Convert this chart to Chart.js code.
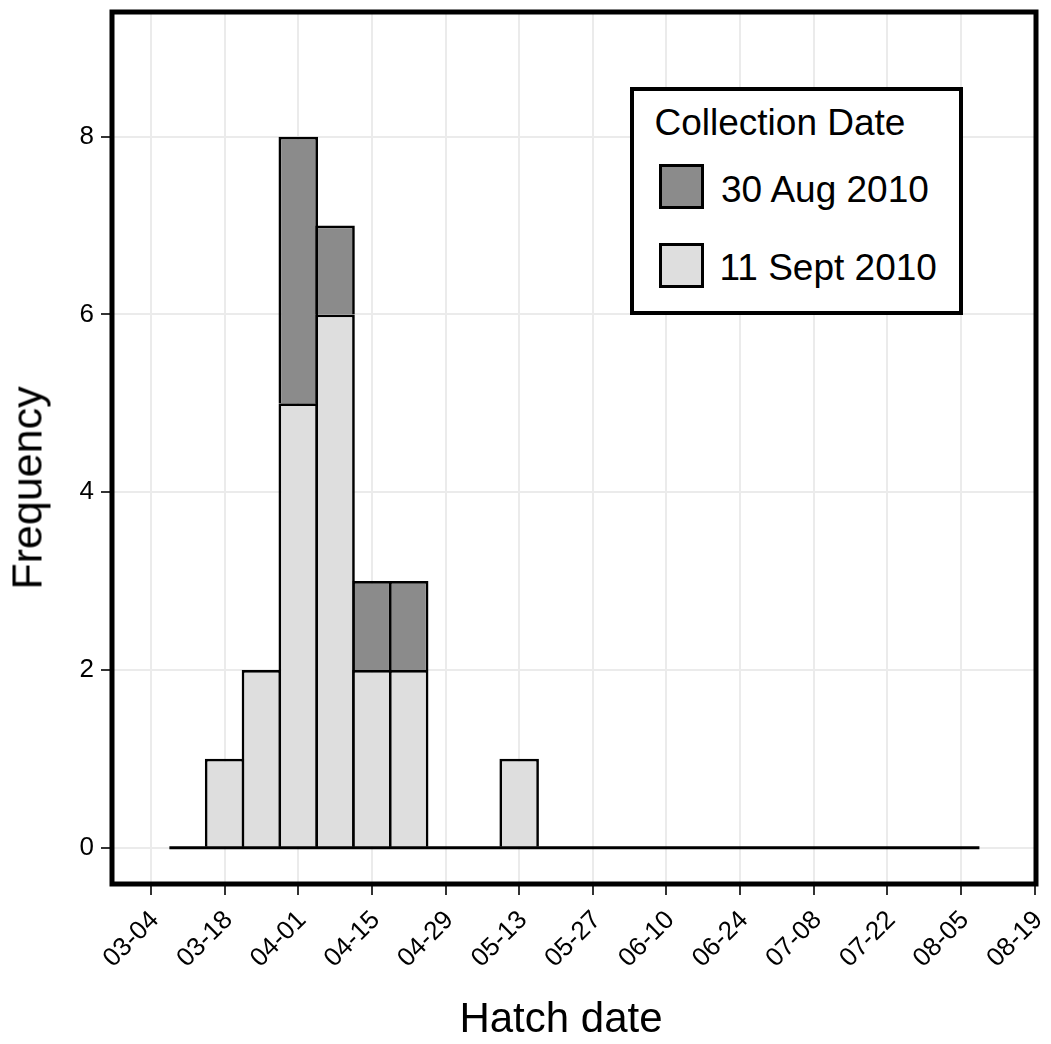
<!DOCTYPE html>
<html><head><meta charset="utf-8">
<script src="https://cdn.jsdelivr.net/npm/chart.js@4.4.0/dist/chart.umd.min.js"></script>
<style>
html,body{margin:0;padding:0;background:#fff;}
#wrap{position:relative;width:1051px;height:1044px;overflow:hidden;font-family:"Liberation Sans",Arial,Helvetica,sans-serif;color:#000;background:#fff;}
#c{position:absolute;left:0;top:0;}
.t{position:absolute;white-space:nowrap;}
.key{position:absolute;box-sizing:border-box;border:3.5px solid #000;}
</style></head><body>
<div id="wrap">
<canvas id="c" width="1051" height="1044" style="width:1051px;height:1044px"></canvas>
</div>
<script>
// ---- data ----
const tickLabels = ['03-04','03-18','04-01','04-15','04-29','05-13','05-27','06-10','06-24','07-08','07-22','08-05','08-19'];
const yTickValues = [0, 2, 4, 6, 8];
const binCenters = ['03-11','03-18','03-25','04-01','04-08','04-15','04-22','04-29','05-06','05-13','05-20','05-27','06-03','06-10','06-17','06-24','07-01','07-08','07-15','07-22','07-29','08-05'];
const sept11Counts = [0,1,2,5,6,2,2,0,0,1,0,0,0,0,0,0,0,0,0,0,0,0];
const aug30Counts  = [0,0,0,3,1,1,1,0,0,0,0,0,0,0,0,0,0,0,0,0,0,0];
const seriesNames = ['11 Sept 2010', '30 Aug 2010'];
const legendTitle = 'Collection Date';
const xTitle = 'Hatch date';
const yTitle = 'Frequency';

// ---- helpers ----
function dayOf(md) {
  const [m, d] = md.split('-').map(Number);
  return (Date.UTC(2010, m - 1, d) - Date.UTC(2010, 2, 4)) / 864e5;
}
const binDays = binCenters.map(dayOf);
const tickDays = tickLabels.map(dayOf);
const binW = binDays[1] - binDays[0];
const lightFill = '#dedede', darkFill = '#8b8b8b';
const barBorder = 2.7;

const panelBorder = {
  id: 'panelBorder',
  afterDraw(chart) {
    const {ctx, chartArea: a} = chart;
    ctx.save();
    ctx.strokeStyle = '#000';
    ctx.lineWidth = 5;
    ctx.strokeRect(a.left, a.top, a.right - a.left, a.bottom - a.top);
    ctx.restore();
  }
};

const tickFont = {family: '"Liberation Sans", Arial, sans-serif', size: 26};
const noPad = s => { s.paddingTop = 0; s.paddingBottom = 0; s.paddingLeft = 0; s.paddingRight = 0; };

const chart = new Chart(document.getElementById('c'), {
  type: 'bar',
  data: {
    datasets: [
      {
        label: seriesNames[0],
        data: binDays.map((x, i) => ({x, y: sept11Counts[i]})),
        backgroundColor: lightFill, borderColor: '#000', borderWidth: barBorder,
        borderSkipped: 'start', barPercentage: 1.073, categoryPercentage: 1, inflateAmount: 0
      },
      {
        label: seriesNames[1],
        data: binDays.map((x, i) => ({x, y: aug30Counts[i]})),
        backgroundColor: darkFill, borderColor: '#000', borderWidth: barBorder,
        borderSkipped: 'start', barPercentage: 1.073, categoryPercentage: 1, inflateAmount: 0
      },
      {
        type: 'line', label: 'zero', stack: 'zero', order: -1,
        data: [{x: binDays[0] - binW / 2, y: 0}, {x: binDays[binDays.length - 1] + binW / 2, y: 0}],
        borderColor: '#000', borderWidth: 2.8, pointRadius: 0, fill: false
      }
    ]
  },
  options: {
    responsive: false, animation: false, devicePixelRatio: 1,
    layout: {padding: {left: 0, right: 15, top: 12, bottom: 0}},
    plugins: {legend: {display: false}, tooltip: {enabled: false}},
    scales: {
      x: {
        type: 'linear', stacked: true, offset: false, min: -7.41, max: 168.26,
        afterBuildTicks: s => { s.ticks = tickDays.map(v => ({value: v})); },
        afterFit: s => { s.height = 160; noPad(s); },
        grid: {offset: false, color: '#ebebeb', lineWidth: 2, tickColor: '#333333', tickWidth: 2, tickLength: 11},
        border: {display: false},
        ticks: {autoSkip: false, minRotation: 45, maxRotation: 45, font: tickFont, color: '#000', padding: 10, labelOffset: 4,
                callback: (v, i) => tickLabels[i]}
      },
      y: {
        type: 'linear', stacked: true, min: -0.408, max: 9.403,
        afterBuildTicks: s => { s.ticks = yTickValues.map(v => ({value: v})); },
        afterFit: s => { s.width = 112; noPad(s); },
        grid: {color: '#ebebeb', lineWidth: 2, tickColor: '#333333', tickWidth: 2, tickLength: 11},
        border: {display: false},
        ticks: {font: tickFont, color: '#000', padding: 7, callback: v => String(v)}
      }
    }
  },
  plugins: [panelBorder]
});

// ---- overlay text: axis titles and legend ----
const wrap = document.getElementById('wrap');
function txt(s, size, css) {
  const d = document.createElement('div');
  d.className = 't';
  d.textContent = s;
  d.style.fontSize = size + 'px';
  d.style.lineHeight = size + 'px';
  Object.assign(d.style, css);
  wrap.appendChild(d);
  return d;
}
txt(yTitle, 43, {left: '27px', top: '488px', transform: 'translate(-50%,-50%) rotate(-90deg)'});
txt(xTitle, 42, {left: '561px', top: '1018px', transform: 'translate(-50%,-50%)'});

const box = document.createElement('div');
Object.assign(box.style, {position: 'absolute', left: '630px', top: '87px', width: '333px', height: '228px',
  boxSizing: 'border-box', border: '4px solid #000', background: '#fff'});
wrap.appendChild(box);
txt(legendTitle, 37, {left: '654.5px', top: '103.7px'});
const legendItems = chart.data.datasets.slice(0, 2).map(d => ({label: d.label, fill: d.backgroundColor})).reverse();
const keyTops = [164, 243];
const labelTops = [171.4, 248.7];
const labelLefts = [721, 719.5];
legendItems.forEach((it, i) => {
  const k = document.createElement('div');
  k.className = 'key';
  Object.assign(k.style, {left: '659px', top: keyTops[i] + 'px', width: '45px', height: '45px', background: it.fill});
  wrap.appendChild(k);
  txt(it.label, 37, {left: labelLefts[i] + 'px', top: labelTops[i] + 'px'});
});
</script>
</body></html>
